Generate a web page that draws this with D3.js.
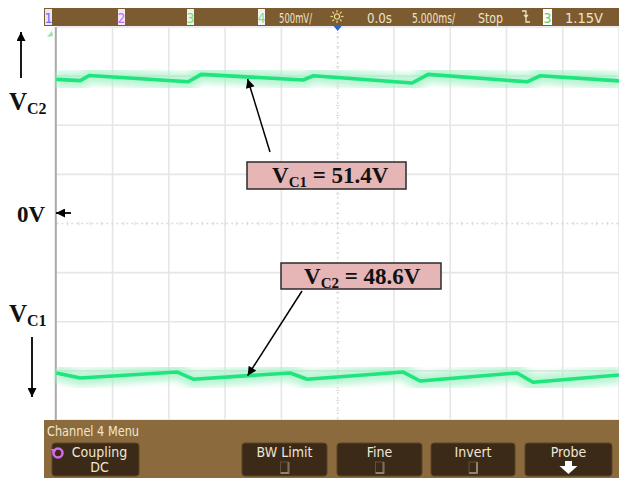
<!DOCTYPE html>
<html>
<head>
<meta charset="utf-8">
<script src="https://cdn.jsdelivr.net/npm/d3@7"></script>
<style>
  html, body { margin: 0; padding: 0; background: #fff; }
  svg { display: block; }
</style>
</head>
<body>
<svg id="scope" width="619" height="482"></svg>
<script>
// Upper trace: capacitor ripple, time in ms, level in volts
const upperTime  = [-25.0, -22.87, -22.07, -13.28, -12.12, -3.06, -2.18, 6.62, 8.04, 16.83, 17.98, 25.0];
const upperVolts = [48.4, 48.0, 49.7, 47.6, 50.1, 48.2, 49.6, 47.2, 50.1, 47.6, 49.6, 47.9];

// Lower trace
const lowerTime  = [-25.0, -22.87, -14.25, -12.83, -4.22, -2.71, 5.82, 7.33, 15.94, 17.36, 25.0];
const lowerVolts = [-50.2, -51.9, -49.9, -52.3, -50.2, -52.3, -49.9, -52.9, -50.2, -53.3, -50.9];

// Screen settings: 5 ms/div horizontally, 16.5 V/div vertically
const timeTicks = [-25, -20, -15, -10, -5, 0, 5, 10, 15, 20, 25];
const voltTicks = [-66, -49.5, -33, -16.5, 0, 16.5, 33, 49.5, 66];

// Status bar and menu texts
const statusTexts = ["500mV/", "0.0s", "5.000ms/", "Stop", "1.15V"];
const menuTitle = "Channel 4 Menu";
const menuButtons = [["Coupling", "DC"], ["BW Limit"], ["Fine"], ["Invert"], ["Probe"]];

// Annotations
const calloutTexts = [
  { main: "V", sub: "C1", rest: " = 51.4V" },
  { main: "V", sub: "C2", rest: " = 48.6V" }
];

const svg = d3.select("#scope");
const plotLeft = 56.3, plotRight = 619, plotTop = 27, plotBottom = 420;

const x = d3.scaleLinear().domain([-25, 25]).range([plotLeft, plotRight]);
const y = d3.scaleLinear().domain([-66, 66]).range([plotBottom, plotTop]);

const narrow = "'Liberation Sans Narrow', 'Arial Narrow', 'DejaVu Sans Condensed', sans-serif";
const serif = "'Liberation Serif', 'Times New Roman', serif";

// ---- graticule ----
const grid = svg.append("g");
grid.selectAll("line.v").data(timeTicks.filter(t => t !== 0 && t !== -25))
  .join("line")
  .attr("x1", d => x(d)).attr("x2", d => x(d))
  .attr("y1", plotTop).attr("y2", plotBottom)
  .attr("stroke", "#e6e6e6").attr("stroke-width", 1.6);
grid.selectAll("line.h").data(voltTicks.filter(v => v !== 0))
  .join("line")
  .attr("x1", plotLeft).attr("x2", plotRight)
  .attr("y1", d => y(d)).attr("y2", d => y(d))
  .attr("stroke", "#e6e6e6").attr("stroke-width", 1.6);

// centre axes, dotted with minor ticks
grid.append("line")
  .attr("x1", plotLeft).attr("x2", plotRight).attr("y1", y(0)).attr("y2", y(0))
  .attr("stroke", "#dcdcdc").attr("stroke-width", 1.4).attr("stroke-dasharray", "2,3");
grid.append("line")
  .attr("x1", x(0)).attr("x2", x(0)).attr("y1", plotTop).attr("y2", plotBottom)
  .attr("stroke", "#dcdcdc").attr("stroke-width", 1.4).attr("stroke-dasharray", "2,3");
grid.selectAll("line.mx").data(d3.range(-25, 25.01, 1))
  .join("line")
  .attr("x1", d => x(d)).attr("x2", d => x(d))
  .attr("y1", y(0) - 2).attr("y2", y(0) + 2)
  .attr("stroke", "#dcdcdc").attr("stroke-width", 1);
grid.selectAll("line.my").data(d3.range(-66, 66.01, 3.3))
  .join("line")
  .attr("x1", x(0) - 2).attr("x2", x(0) + 2)
  .attr("y1", d => y(d)).attr("y2", d => y(d))
  .attr("stroke", "#dcdcdc").attr("stroke-width", 1);

// left frame edge
svg.append("line")
  .attr("x1", plotLeft - 0.5).attr("x2", plotLeft - 0.5).attr("y1", plotTop).attr("y2", plotBottom)
  .attr("stroke", "#a9a9a9").attr("stroke-width", 2);

// ---- traces ----
const defs = svg.append("defs");
defs.append("filter").attr("id", "haze").attr("x", "-5%").attr("y", "-50%").attr("width", "110%").attr("height", "200%")
  .append("feGaussianBlur").attr("stdDeviation", 2.5);
const marker = defs.append("marker").attr("id", "tip")
  .attr("viewBox", "0 0 10 10").attr("refX", 10).attr("refY", 5)
  .attr("orient", "auto").attr("markerUnits", "userSpaceOnUse")
  .attr("markerWidth", 11).attr("markerHeight", 9);
marker.append("path").attr("d", "M0,0 L10,5 L0,10 Z").attr("fill", "#000");

const line = d3.line().x(d => x(d[0])).y(d => y(d[1]));
const traces = [
  d3.zip(upperTime, upperVolts),
  d3.zip(lowerTime, lowerVolts)
];
const tg = svg.append("g");
traces.forEach(pts => {
  tg.append("path").attr("d", line(pts))
    .attr("fill", "none").attr("stroke", "#a8f3c8").attr("stroke-width", 19)
    .attr("stroke-opacity", 0.55).attr("filter", "url(#haze)");
  tg.append("path").attr("d", line(pts))
    .attr("fill", "none").attr("stroke", "#8debb9").attr("stroke-width", 9)
    .attr("stroke-opacity", 0.35).attr("filter", "url(#haze)");
  tg.append("path").attr("d", line(pts))
    .attr("fill", "none").attr("stroke", "#1ee57c").attr("stroke-width", 3.6)
    .attr("stroke-linejoin", "round");
});

// ---- status bar ----
const bar = svg.append("g");
bar.append("rect").attr("x", 44).attr("y", 8).attr("width", 575).attr("height", 18).attr("fill", "#7d5b30");
const chans = [
  { n: "1", x: 45, w: 7, c: "#6d6dff", bg: "#e8e8f4" },
  { n: "2", x: 118, w: 7, c: "#cc66ee", bg: "#f0e8f4" },
  { n: "3", x: 187, w: 7, c: "#7ddc7d", bg: "#eaf4ea" },
  { n: "4", x: 258, w: 7, c: "#7fdc9c", bg: "#f4f4f4" },
  { n: "3", x: 543, w: 9, c: "#5ccf5c", bg: "#ffffff" }
];
chans.forEach(ch => {
  bar.append("rect").attr("x", ch.x).attr("y", 9).attr("width", ch.w).attr("height", 16).attr("fill", ch.bg);
  bar.append("text").attr("x", ch.x + ch.w / 2).attr("y", 23).attr("text-anchor", "middle")
    .attr("font-family", narrow).attr("font-size", 14).attr("fill", ch.c).text(ch.n);
});
const statusPos = [[279, 33], [367, 25], [412, 43], [478, 25], [565, 38]];
statusTexts.forEach((t, i) => {
  bar.append("text").attr("x", statusPos[i][0]).attr("y", 23)
    .attr("textLength", statusPos[i][1]).attr("lengthAdjust", "spacingAndGlyphs")
    .attr("font-family", narrow).attr("font-size", 14).attr("fill", "#f0e3c4").text(t);
});
// brightness (sun) icon
const sun = bar.append("g").attr("transform", "translate(337,16.5)");
sun.append("circle").attr("r", 2.6).attr("fill", "none").attr("stroke", "#e9dc8e").attr("stroke-width", 1.3);
d3.range(8).forEach(k => {
  const a = k * Math.PI / 4;
  sun.append("line").attr("x1", Math.cos(a) * 4.2).attr("y1", Math.sin(a) * 4.2)
    .attr("x2", Math.cos(a) * 6.5).attr("y2", Math.sin(a) * 6.5)
    .attr("stroke", "#e9dc8e").attr("stroke-width", 1.2);
});
// trigger slope icon
bar.append("path").attr("d", "M522,11 L526,11 L526,22 L530,22 M524,15 L526,17 L528,15")
  .attr("fill", "none").attr("stroke", "#f0e3c4").attr("stroke-width", 1.3);
// trigger position marker
svg.append("path").attr("d", `M${x(0) - 4},26 L${x(0) + 4},26 L${x(0)},31 Z`).attr("fill", "#2a62d8");
// channel 4 ground marker
svg.append("path").attr("d", "M47,37 L52,31 L53,36 Z").attr("fill", "#6fe39a").attr("opacity", 0.8);

// ---- menu panel ----
const menu = svg.append("g");
menu.append("rect").attr("x", 44).attr("y", 420).attr("width", 575).attr("height", 58).attr("fill", "#8b6a3d");
menu.append("text").attr("x", 47).attr("y", 436).attr("textLength", 92).attr("lengthAdjust", "spacingAndGlyphs")
  .attr("font-family", narrow).attr("font-size", 14).attr("fill", "#f3e6c8").text(menuTitle);
const btnPos = [[52, 87], [242, 85], [337, 85], [431, 84], [525, 87]];
menuButtons.forEach((b, i) => {
  const [bx, bw] = btnPos[i];
  const cx = bx + bw / 2 + (i === 0 ? 4 : 0);
  menu.append("rect").attr("x", bx).attr("y", 443).attr("width", bw).attr("height", 33).attr("rx", 3)
    .attr("fill", "#3b2a18").attr("stroke", "#5c4427").attr("stroke-width", 1);
  menu.append("text").attr("x", cx).attr("y", 456.5).attr("text-anchor", "middle")
    .attr("font-family", narrow).attr("font-size", 14).attr("fill", "#efe6d6").text(b[0]);
  if (b.length > 1) {
    menu.append("text").attr("x", cx).attr("y", 472).attr("text-anchor", "middle")
      .attr("font-family", narrow).attr("font-size", 14).attr("fill", "#efe6d6").text(b[1]);
  } else if (b[0] === "Probe") {
    menu.append("path").attr("d", `M${cx - 3.5},461 L${cx + 3.5},461 L${cx + 3.5},466 L${cx + 9},466 L${cx},474 L${cx - 9},466 L${cx - 3.5},466 Z`)
      .attr("fill", "#ffffff");
  } else {
    menu.append("path").attr("d", `M${cx - 4},473 L${cx + 4},473 L${cx + 4},462`)
      .attr("fill", "none").attr("stroke", "#cfc6b6").attr("stroke-width", 1.5);
    menu.append("rect").attr("x", cx - 4).attr("y", 462).attr("width", 8).attr("height", 11)
      .attr("fill", "none").attr("stroke", "#6b5a44").attr("stroke-width", 0.8);
  }
});
// coupling rotary icon
const knob = menu.append("g").attr("transform", "translate(58,453)");
knob.append("circle").attr("r", 4.5).attr("fill", "none").attr("stroke", "#d36be8").attr("stroke-width", 2.6);
knob.append("path").attr("d", "M-7,-4 L-1,-4 L-4,1 Z").attr("fill", "#d36be8");

// ---- annotations ----
const ann = svg.append("g");
function valueAt(times, volts, t) {
  const i = d3.bisectRight(times, t);
  const f = (t - times[i - 1]) / (times[i] - times[i - 1]);
  return volts[i - 1] + f * (volts[i] - volts[i - 1]);
}
const tipTime = -8;
ann.append("line").attr("x1", 270).attr("y1", 152)
  .attr("x2", x(tipTime)).attr("y2", y(valueAt(upperTime, upperVolts, tipTime)) + 2)
  .attr("stroke", "#000").attr("stroke-width", 1.5).attr("marker-end", "url(#tip)");
ann.append("line").attr("x1", 302).attr("y1", 291)
  .attr("x2", x(tipTime)).attr("y2", y(valueAt(lowerTime, lowerVolts, tipTime)))
  .attr("stroke", "#000").attr("stroke-width", 1.5).attr("marker-end", "url(#tip)");

const boxes = [
  { x: 247, y: 162, w: 159, h: 27, tx: 272 },
  { x: 281, y: 263, w: 160, h: 26, tx: 304 }
];
boxes.forEach((b, i) => {
  ann.append("rect").attr("x", b.x).attr("y", b.y).attr("width", b.w).attr("height", b.h)
    .attr("fill", "#e6b5b5").attr("stroke", "#2b2b2b").attr("stroke-width", 1.5);
  const c = calloutTexts[i];
  const t = ann.append("text").attr("x", b.tx).attr("y", b.y + 21)
    .attr("font-family", serif).attr("font-weight", "bold").attr("font-size", 23).attr("fill", "#111");
  t.append("tspan").text(c.main);
  t.append("tspan").attr("font-size", 15).attr("dy", 4).text(c.sub);
  t.append("tspan").attr("dy", -4).text(c.rest);
});

// side labels
const side = svg.append("g").attr("fill", "#111");
function arrow(x1, y1, x2, y2) {
  side.append("line").attr("x1", x1).attr("y1", y1).attr("x2", x2).attr("y2", y2)
    .attr("stroke", "#000").attr("stroke-width", 1.8).attr("marker-end", "url(#tip)");
}
arrow(21, 78, 21, 32);
arrow(32, 337, 32, 397);
arrow(71, y(0) - 10.5, 56, y(0) - 10.5);

function subLabel(px, py, main, sub) {
  const t = side.append("text").attr("x", px).attr("y", py)
    .attr("font-family", serif).attr("font-weight", "bold").attr("font-size", 25);
  t.append("tspan").text(main);
  t.append("tspan").attr("font-size", 16).attr("dy", 4).text(sub);
}
subLabel(9, 110, "V", "C2");
subLabel(9, 322, "V", "C1");
side.append("text").attr("x", 17).attr("y", 222)
  .attr("font-family", serif).attr("font-weight", "bold").attr("font-size", 23).text("0V");
</script>
</body>
</html>
